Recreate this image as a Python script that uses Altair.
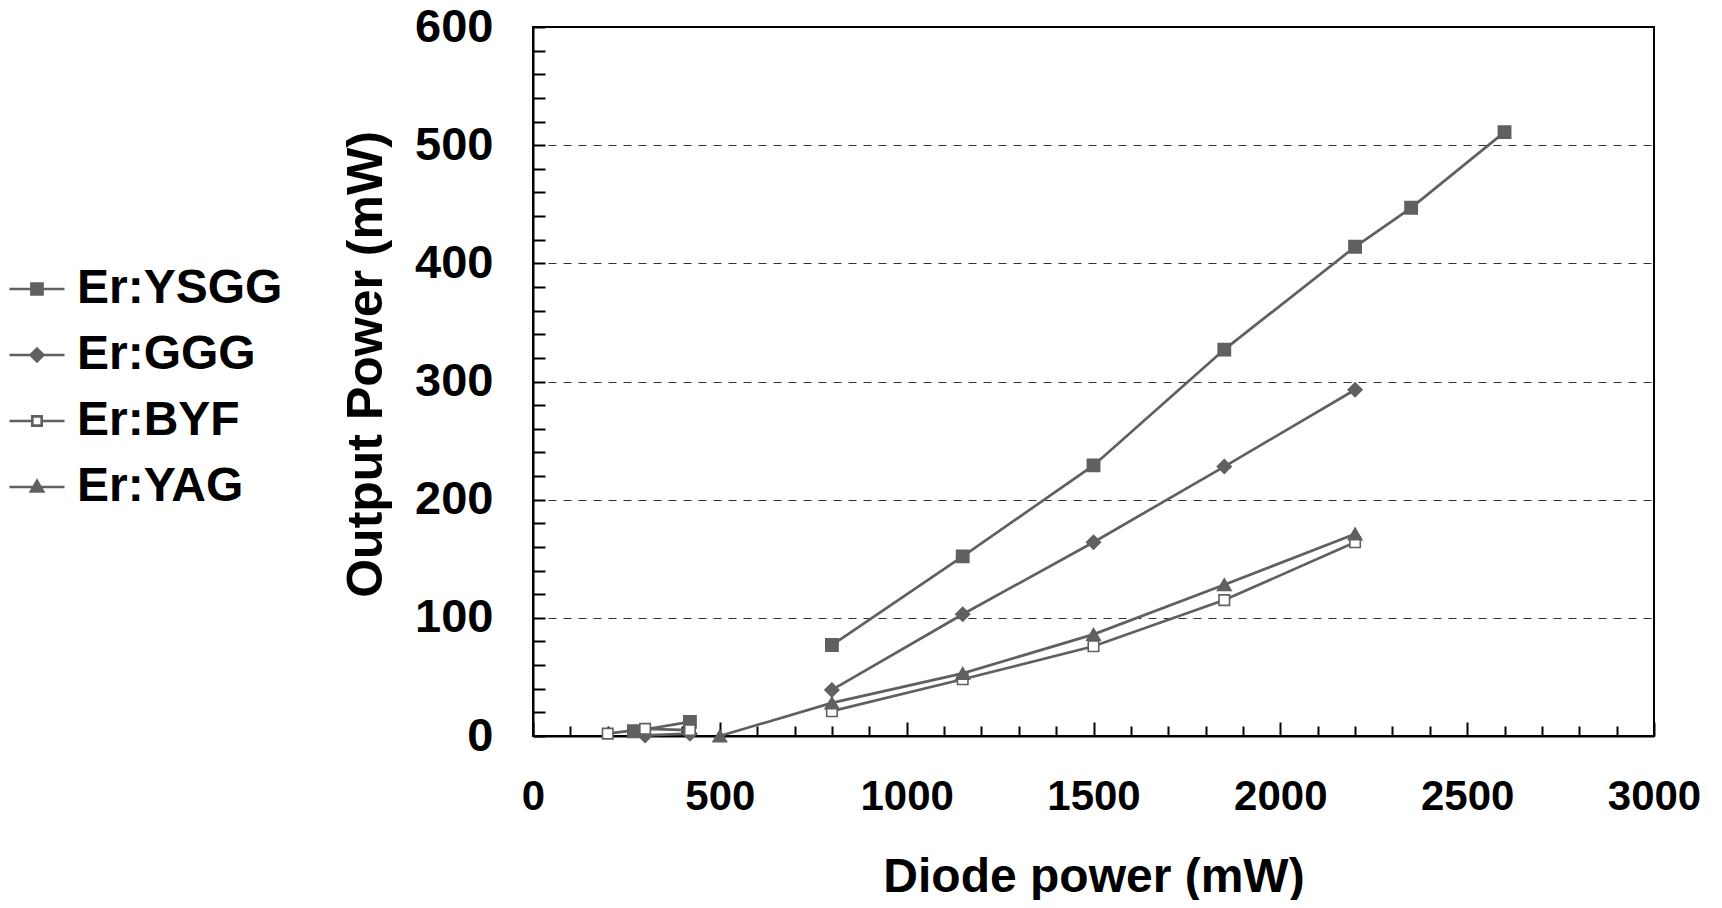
import altair as alt
import pandas as pd

# ---------------- data ----------------
series_names = ["Er:YSGG", "Er:GGG", "Er:BYF", "Er:YAG"]

ysgg_x = [270, 420, 800, 1150, 1500, 1850, 2200, 2350, 2600]
ysgg_y = [4, 12, 77, 152, 229, 327, 414, 447, 511]
ysgg_run = [0, 0, 1, 1, 1, 1, 1, 1, 1]

ggg_x = [300, 420, 800, 1150, 1500, 1850, 2200]
ggg_y = [0.5, 2, 39, 103, 164, 228, 293]
ggg_run = [0, 0, 1, 1, 1, 1, 1]

byf_x = [200, 300, 420, 800, 1150, 1500, 1850, 2200]
byf_y = [2, 6, 5, 21, 48, 76, 115, 164]
byf_run = [0, 0, 0, 1, 1, 1, 1, 1]

yag_x = [500, 800, 1150, 1500, 1850, 2200]
yag_y = [0, 28, 53, 86, 128, 171]
yag_run = [0, 0, 0, 0, 0, 0]

x_tick_values = list(range(0, 3001, 100))
y_tick_values = list(range(0, 601, 20))

GRAY = "#606060"
FONT = "Liberation Sans"

rows = []
for name, xs, ys, rs in [
    ("Er:YSGG", ysgg_x, ysgg_y, ysgg_run),
    ("Er:GGG", ggg_x, ggg_y, ggg_run),
    ("Er:BYF", byf_x, byf_y, byf_run),
    ("Er:YAG", yag_x, yag_y, yag_run),
]:
    for xv, yv, r in zip(xs, ys, rs):
        rows.append({"series": name, "x": xv, "y": yv, "run": f"{name}-{r}"})
df = pd.DataFrame(rows)

# ---------------- encodings ----------------
x_enc = alt.X(
    "x:Q",
    scale=alt.Scale(domain=[0, 3000], nice=False),
    axis=alt.Axis(
        values=x_tick_values,
        format="d",
        labelExpr="datum.value % 500 === 0 ? datum.label : ''",
        tickSize=alt.ExprRef(expr="datum.value % 500 === 0 ? -14 : -10"),
        tickColor="black",
        tickWidth=2,
        domainColor="black",
        domainWidth=2,
        grid=False,
        labelFont=FONT,
        labelFontSize=42,
        labelFontWeight="bold",
        labelColor="black",
        labelPadding=54,
        labelFlush=False,
        labelOverlap=False,
        labelBound=False,
        title="Diode power (mW)",
        titleFont=FONT,
        titleFontSize=48,
        titleFontWeight="bold",
        titleColor="black",
        titleBaseline="alphabetic",
        titleY=155,
    ),
)

y_enc = alt.Y(
    "y:Q",
    scale=alt.Scale(domain=[0, 600], nice=False),
    axis=alt.Axis(
        values=y_tick_values,
        format="d",
        labelExpr="datum.value % 100 === 0 ? datum.label : ''",
        tickSize=alt.ExprRef(expr="-12"),
        tickColor="black",
        tickWidth=2,
        domainColor="black",
        domainWidth=2,
        grid=True,
        gridColor="#333333",
        gridDash=[8, 7],
        gridWidth=1,
        gridOpacity={
            "condition": {
                "test": "datum.value % 100 === 0 && datum.value > 0 && datum.value < 600",
                "value": 1,
            },
            "value": 0,
        },
        labelFont=FONT,
        labelFontSize=47,
        labelFontWeight="bold",
        labelColor="black",
        labelPadding=52,
        labelFlush=False,
        labelOverlap=False,
        labelBound=False,
        title="Output Power (mW)",
        titleFont=FONT,
        titleFontSize=50,
        titleFontWeight="bold",
        titleColor="black",
        titleBaseline="alphabetic",
        titleX=-152,
        titleY=337,
    ),
)

base = alt.Chart(df)

lines = base.mark_line(color=GRAY, strokeWidth=2.7).encode(
    x=x_enc, y=y_enc, detail="run:N", order="x:Q"
)

marker_styles = [
    ("Er:YSGG", "square", GRAY, 150),
    ("Er:GGG", "diamond", GRAY, 190),
    ("Er:BYF", "square", "white", 110),
    ("Er:YAG", "triangle-up", GRAY, 180),
]

point_layers = [
    base.transform_filter(alt.datum.series == name)
    .mark_point(shape=shp, filled=True, fill=fc, stroke=GRAY, strokeWidth=1.6, size=sz, opacity=1)
    .encode(x=x_enc, y=y_enc)
    for name, shp, fc, sz in marker_styles
]

# legend symbols: a line with the marker in the middle
legend_paths = [
    "M-5,0H5M-1,-1H1V1H-1Z",
    "M-5,0H5M0,-1.15L1.15,0L0,1.15L-1.15,0Z",
    "M-5,0H-0.85M0.85,0H5M-0.85,-0.85H0.85V0.85H-0.85Z",
    "M-5,0H5M0,-1.1L1.1,0.8L-1.1,0.8Z",
]

leg = alt.Legend(
    title=None,
    orient="none",
    legendX=-520,
    legendY=238,
    padding=0,
    symbolSize=121,
    symbolOpacity=1,
    symbolStrokeColor=GRAY,
    symbolStrokeWidth=2.7,
    labelFont=FONT,
    labelFontSize=48,
    labelFontWeight="bold",
    labelColor="black",
    labelOffset=16,
    labelLimit=0,
    rowPadding=18,
)

legend_layer = base.mark_point(
    filled=True, size=121, opacity=0, stroke=GRAY, strokeWidth=2.7
).encode(
    x=x_enc,
    y=y_enc,
    shape=alt.Shape(
        "series:N",
        scale=alt.Scale(domain=series_names, range=legend_paths),
        legend=leg,
    ),
    fill=alt.Fill(
        "series:N",
        scale=alt.Scale(domain=series_names, range=[GRAY, GRAY, "white", GRAY]),
        legend=leg,
    ),
    stroke=alt.Stroke(
        "series:N",
        scale=alt.Scale(domain=series_names, range=[GRAY, GRAY, GRAY, GRAY]),
        legend=leg,
    ),
    strokeWidth=alt.StrokeWidth(
        "series:N",
        scale=alt.Scale(domain=series_names, range=[2.7, 2.7, 2.7, 2.7]),
        legend=leg,
    ),
)

chart = (
    alt.layer(legend_layer, lines, *point_layers)
    .properties(
        width=1121,
        height=709,
        autosize=alt.AutoSizeParams(type="none"),
        padding={"left": 525, "top": 19, "right": 60, "bottom": 164},
        background="white",
    )
    .configure_view(stroke="black", strokeWidth=2)
)

chart.save("out.html", embed_options={"renderer": "svg", "actions": False})
